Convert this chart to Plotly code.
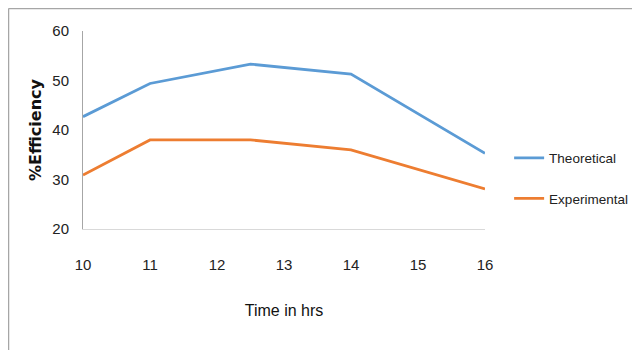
import plotly.graph_objects as go

time_hrs = [10, 11, 12.5, 14, 16]
theoretical = [42.7, 49.4, 53.3, 51.3, 35.3]
experimental = [30.9, 38.0, 38.0, 36.0, 28.1]
x_ticks = [10, 11, 12, 13, 14, 15, 16]
y_ticks = [20, 30, 40, 50, 60]

tick_font = dict(family="Liberation Sans Narrow, Arial Narrow, Liberation Sans, sans-serif", size=15, color="#222222")
legend_font = dict(family="Liberation Sans Narrow, Arial Narrow, Liberation Sans, sans-serif", size=13.5, color="#222222")

fig = go.Figure()
fig.add_trace(go.Scatter(x=time_hrs, y=theoretical, mode="lines", name="Theoretical",
                         line=dict(color="#5B9BD5", width=2.8), legendgroup="a"))
fig.add_trace(go.Scatter(x=time_hrs, y=experimental, mode="lines", name="Experimental",
                         line=dict(color="#ED7D31", width=2.8), legendgroup="b"))

fig.update_layout(
    width=632, height=342,
    margin=dict(l=75, r=155, t=23, b=121, autoexpand=False),
    paper_bgcolor="white", plot_bgcolor="white",
    showlegend=True,
    legend=dict(x=1.06, y=0.255, xanchor="left", yanchor="middle",
                font=legend_font, tracegroupgap=20, bgcolor="rgba(0,0,0,0)"),
    xaxis=dict(range=[10, 16], tickvals=x_ticks, showgrid=False, zeroline=False,
               showline=True, linecolor="#d9d9d9", linewidth=1, automargin=False,
               ticks="outside", ticklen=22, tickcolor="rgba(0,0,0,0)",
               tickfont=tick_font,
               title=dict(text="Time in hrs", standoff=32,
                          font=dict(family="Liberation Sans Narrow, Arial Narrow, sans-serif", size=16, color="#111111"))),
    yaxis=dict(range=[20, 60], tickvals=y_ticks, showgrid=False, zeroline=False,
               showline=True, linecolor="#a6a6a6", linewidth=1, automargin=False,
               ticks="outside", ticklen=10, tickcolor="rgba(0,0,0,0)",
               tickfont=tick_font,
               title=dict(text="%Efficiency", standoff=6,
                          font=dict(family="DejaVu Sans, Verdana, sans-serif", size=16, color="#111111",
                                    weight="bold"))),
    shapes=[
        dict(type="line", xref="paper", yref="paper", x0=-0.1853, x1=-0.1853, y0=-0.62, y1=1.1136,
             line=dict(color="#a6a6a6", width=1.5)),
        dict(type="line", xref="paper", yref="paper", x0=-0.1853, x1=1.39, y0=1.1136, y1=1.1136,
             line=dict(color="#a6a6a6", width=1.5)),
    ],
)

fig.write_html("out.html")
